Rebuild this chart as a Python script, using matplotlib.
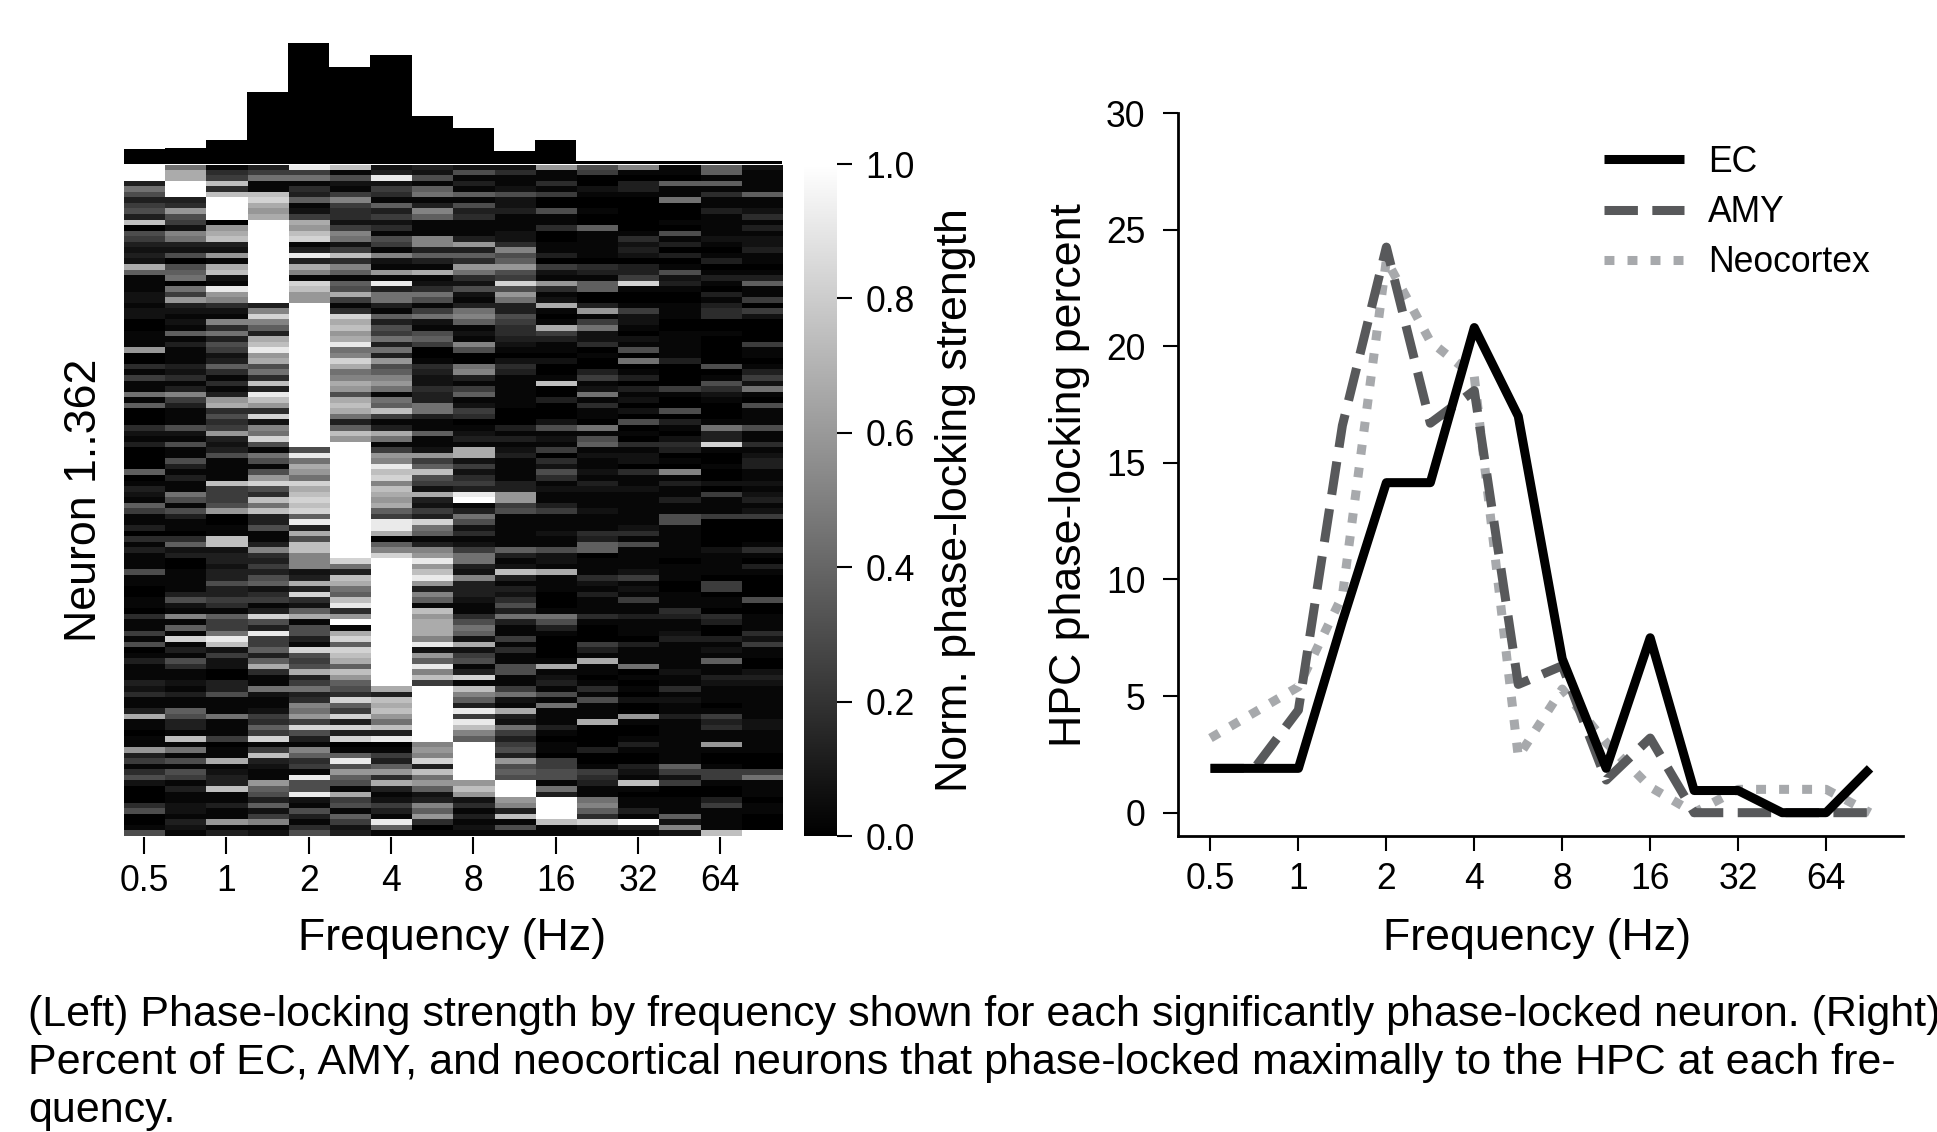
import numpy as np
import matplotlib
matplotlib.use("Agg")
import matplotlib.pyplot as plt

plt.rcParams['font.family'] = ['Liberation Sans', 'DejaVu Sans']

W, H = 1937, 1132

# ---- data ----
freq_labels = ["0.5", "1", "2", "4", "8", "16", "32", "64"]
hist_counts = [10, 11, 16, 48, 81, 65, 73, 32, 24, 9, 16, 2, 2, 2, 2, 2]

# heatmap, one string per frequency column, top to bottom, hex digit = grey level read by eye
heat_c0 = ("fff3863563c0653232b71112212200" "111a00415118170004213000070132"
           "1751130413111611001104115160131" "11324113b11011a351462000460016")
heat_c1 = ("8bbfff34a652983260678085a32121" "713111324139531116216116313118"
           "6163110472300111136219171d13164" "112131176331c18161651311221321")
heat_c2 = ("145c4cffff0abc32a1bc21ea942194" "836523741413ab4645a32361111c55"
           "56a0011cc2332336335417558ec2522" "0033611181115011b1233c11311a13")
heat_c3 = ("35811cdbabfffffffffffffff39d97" "3bceab684c3eca4d298d618616ad64"
           "c8c336113943536724513d63e55737b" "411821125475d15c3211a763725912")
heat_c4 = ("e581437125bacd13e3b91dcaafffff" "fffffffffffffffffffff6e8ba8dbc"
           "dcd7e3b6cc99923b3d427b16631d656" "b3583498a5d63197451e66e2163146")
heat_c5 = ("c162159544259825c497176b514dbc" "abe89db89ba6bcb837caffffffffff"
           "fffffffffffd83cb87ce4af1bd7dcb7" "ca764d75d3d3d017e6a761b5617523")
heat_c6 = ("23e2541735241651921a1e38831736" "58383a679a8187c513b815a9ecd9cb"
           "ab75eeb079dffffffffffffffffffff" "fffb3cbca8c3e01537a4b312531e71")
heat_c7 = ("3261781397111993731b1248615821" "6750014322433883117112a57c652b"
           "3253d87139aeacea3971cabbb9e2a7e" "9c5ffffffffff9a9d3c8a72397a401")
heat_c8 = ("26131716341113a374a84262138971" "219600893157125401231bb252453e"
           "f1386241258832933321146872b2561" "3d1c973e5ec97fffffffaca2413121")
heat_c9 = ("241126223111224967a65d6a833654" "43210243111111000313123111133a"
           "a561111117312c31324638311514116" "6115821b32853563a676fffa93c161")
heat_c10 = ("a11415006114001130521a412b101b" "531102001c00300026121504264121"
            "1351112116221b1110001863100001b1" "2316181113101105566183ffffc11")
heat_c11 = ("65002100100711111043177003a158" "224010035128141108167121121321"
            "11211143770111421311141000531b1" "101416111b00003001543118974d21")
heat_c12 = ("910331000000142320335d10015221" "021608013031202060104122041121"
            "1111124161111251215113111031118" "01010200a10013100321c101131f31")
heat_c13 = ("110711800010613030162310011100" "111113000051006031024301091311"
            "3116611111101110011143112311111" "211412113111111117525001117292")
heat_c14 = ("771714113111121013013103134400" "10000060164210001833d100100205"
            "1115000002111105501104300312171" "1321110153411a100155100351111c")
heat_c15 = ("211117112413122311013711505200" "005110135281061116114123311212"
            "3125000014103100006001114251100" "23211111122111100058111011000f")

heat_cols = [heat_c0, heat_c1, heat_c2, heat_c3, heat_c4, heat_c5, heat_c6, heat_c7,
             heat_c8, heat_c9, heat_c10, heat_c11, heat_c12, heat_c13, heat_c14, heat_c15]

# right panel, percent at each of the 16 frequency bins
ec_pct = [1.9, 1.9, 1.9, 8.2, 14.15, 14.15, 20.8, 17.0, 6.6, 1.9, 7.5, 0.95, 0.95, 0, 0, 1.9]
amy_pct = [1.9, 1.9, 4.4, 16.6, 24.25, 16.7, 18.1, 5.5, 6.3, 1.4, 3.2, 0, 0, 0, 0, 0]
neo_pct = [3.2, 4.3, 5.4, 9.3, 23.7, 20.2, 18.7, 2.4, 5.3, 3.0, 1.1, 0, 1.0, 1.0, 1.0, 0]

# ---- figure ----
def rect(x0, y0, x1, y1):
    # pixel box (top left origin) to figure fractions
    return [x0 / W, 1 - y1 / H, (x1 - x0) / W, (y1 - y0) / H]

def put(x, y, s, **kw):
    return fig.text(x / W, 1 - y / H, s, **kw)

fig = plt.figure(figsize=(W / 100, H / 100), dpi=100, facecolor="white")

TICK = 25.6
LABEL = 32.2
tw = 1.5

# heatmap, digits were read a little bright so pull the mids down
heat = (np.array([[int(ch, 16) for ch in col] for col in heat_cols]).T / 15.0) ** 1.3
ax = fig.add_axes(rect(123.5, 164.5, 782, 836.5))
im = ax.imshow(heat, cmap="gray", vmin=0, vmax=1, aspect="auto", interpolation="nearest",
               extent=[0, 16, heat.shape[0], 0])
for s in ax.spines.values():
    s.set_visible(False)
ax.set_yticks([])
ax.set_xticks(np.arange(0.5, 16, 2))
ax.set_xticklabels(freq_labels, fontsize=TICK)
ax.tick_params(axis="x", length=12, width=tw, pad=7.5)
put(452, 950, "Frequency (Hz)", fontsize=LABEL, ha="center", va="baseline")
put(84, 500, "Neuron 1..362", fontsize=LABEL, rotation=90, ha="center", va="center")

# histogram on top
axh = fig.add_axes(rect(123.5, 43, 782, 164))
axh.bar(np.arange(16) + 0.5, hist_counts, width=1.0, color="black", linewidth=0)
axh.set_xlim(0, 16)
axh.set_ylim(0, 81)
axh.axis("off")

# colorbar
cax = fig.add_axes(rect(804, 164, 837, 836))
cb = fig.colorbar(im, cax=cax, ticks=[0, 0.2, 0.4, 0.6, 0.8, 1.0])
cb.outline.set_visible(False)
cb.ax.tick_params(length=10.5, width=tw, pad=10, labelsize=TICK)
put(955, 500, "Norm. phase-locking strength", fontsize=LABEL, rotation=90, ha="center", va="center")

# right panel
ax2 = fig.add_axes(rect(1177.5, 113, 1903, 836))
x = np.arange(16)
ax2.plot(x, neo_pct, color="#a7a9ac", lw=6.5, dashes=(1.1, 1.45), label="Neocortex", dash_capstyle="butt")
ax2.plot(x, amy_pct, color="#58595b", lw=6.5, dashes=(3.7, 1.6), label="AMY", dash_capstyle="butt")
ax2.plot(x, ec_pct, color="black", lw=6.5, label="EC", solid_joinstyle="round", solid_capstyle="butt")
ax2.set_xlim(-0.75, 15.75)
ax2.set_ylim(-1, 30)
ax2.set_xticks(np.arange(0, 16, 2))
ax2.set_xticklabels(freq_labels, fontsize=TICK)
ax2.set_yticks([0, 5, 10, 15, 20, 25, 30])
ax2.tick_params(axis="both", length=11, width=tw, labelsize=TICK)
ax2.tick_params(axis="x", pad=8)
ax2.tick_params(axis="y", pad=12)
ax2.spines["top"].set_visible(False)
ax2.spines["right"].set_visible(False)
ax2.spines["left"].set_linewidth(2)
ax2.spines["bottom"].set_linewidth(2)
put(1537.5, 950, "Frequency (Hz)", fontsize=LABEL, ha="center", va="baseline")
put(1069, 475, "HPC phase-locking percent", fontsize=LABEL, rotation=90, ha="center", va="center")

h, l = ax2.get_legend_handles_labels()
ax2.legend(h[::-1], l[::-1], fontsize=TICK, frameon=False, handlelength=2.25, handletextpad=0.68,
           labelspacing=0.43, loc="upper left", bbox_to_anchor=(0.588, 0.956), borderpad=0, borderaxespad=0)

# caption
put(28, 1026, "(Left) Phase-locking strength by frequency shown for each significantly phase-locked neuron. (Right)",
    fontsize=31, va="baseline")
put(28, 1074, "Percent of EC, AMY, and neocortical neurons that phase-locked maximally to the HPC at each fre-",
    fontsize=31, va="baseline")
put(28, 1122, "quency.", fontsize=31, va="baseline")

fig.savefig("out.png", dpi=100, facecolor="white")
